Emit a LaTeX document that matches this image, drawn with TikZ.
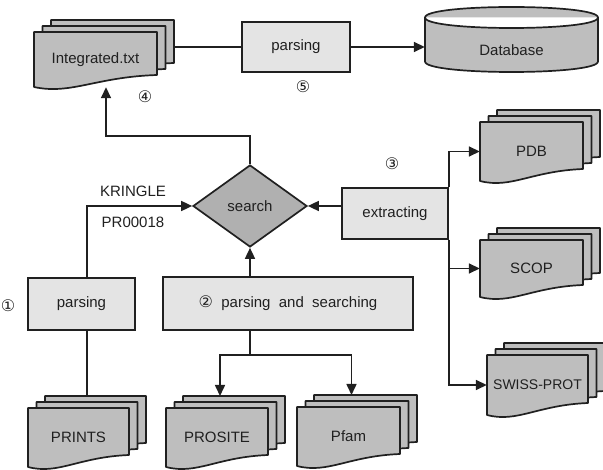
\documentclass[tikz,border=0pt]{standalone}
\usepackage{fontspec}
\setmainfont{Liberation Sans}
\newfontfamily\circfont{DejaVu Sans}
\usepackage{tikz}
\usetikzlibrary{arrows.meta,positioning,shapes.geometric,backgrounds,calc}
\definecolor{inkgray}{HTML}{202020}
\definecolor{boxgray}{HTML}{E4E4E4}
\definecolor{docgray}{HTML}{BEBEBE}
\definecolor{diagray}{HTML}{B0B0B0}

\newcommand{\circnum}[1]{{\circfont\fontsize{16}{17}\selectfont #1}}
% one page: top-left corner, width, height
\newcommand{\docpage}[4]{%
  \draw[docline] (#1,#2) -- ++(#3,0) -- ({#1+#3},{#2+#4-12})
    .. controls ({#1+0.5*#3},{#2+#4-10}) and ({#1+0.3*#3},{#2+#4+8}) .. (#1,{#2+#4}) -- cycle;}
% three pages, named node on the front one
\newcommand{\docstack}[6]{%
  \docpage{#2+17}{#3-12}{#4}{#5}
  \docpage{#2+8.5}{#3-6}{#4}{#5}
  \docpage{#2}{#3}{#4}{#5}
  \node[minimum width=#4pt,minimum height=#5pt,inner sep=0pt] (#1) at ({#2+#4/2},{#3+#5/2}) {#6};
  \coordinate (#1 top) at ({#2+#4/2+3},{#3-12});}

\begin{document}
\begin{tikzpicture}[x=1pt,y=-1pt,
  every node/.style={font=\fontsize{15}{17}\selectfont,text=inkgray},
  docline/.style={draw=inkgray,line width=1.7pt,fill=docgray,line join=round},
  procbox/.style={rectangle,draw=inkgray,line width=1.7pt,fill=boxgray,inner sep=0pt},
  flow/.style={draw=inkgray,line width=1.6pt,-{Triangle[length=11pt,width=10pt]}},
  link/.style={draw=inkgray,line width=1.6pt}]
  \useasboundingbox (0,0) rectangle (603,470);

  % process boxes
  \node[procbox,minimum width=108pt,minimum height=50pt] (ptop) at (296,47) {parsing};
  \node[procbox,minimum width=107pt,minimum height=52pt] (p1) at (81.5,304) {parsing};
  \node[procbox,minimum width=250pt,minimum height=53pt] (p2) at (288,303.5)
    {\circnum{②}\ \ parsing\ \ and\ \ searching};
  \node[procbox,minimum width=106pt,minimum height=51pt] (extract) at (395,213.5) {extracting};
  \node[diamond,draw=inkgray,line width=1.7pt,fill=diagray,inner sep=0pt,
    minimum width=114pt,minimum height=82pt] (search) at (250,206) {search};

  % database
  \draw[docline] (425,17.5) -- (425,61.5) .. controls (425,75.5) and (598,75.5) .. (598,61.5)
    -- (598,17.5) .. controls (598,31.5) and (425,31.5) .. (425,17.5)
    .. controls (425,3.5) and (598,3.5) .. (598,17.5);
  \node[minimum width=173pt,minimum height=44pt,inner sep=0pt] (db) at (511.5,50) {Database};

  % document stacks
  \docstack{integ}{34}{32}{123}{55}{Integrated.txt}
  \docstack{pdb}{480}{122}{103}{59}{PDB}
  \docstack{scop}{480}{240}{103}{57}{SCOP}
  \docstack{swiss}{487}{355}{101}{60}{\fontsize{14}{16}\selectfont SWISS-PROT}
  \docstack{prints}{28}{408}{101}{59}{PRINTS}
  \docstack{prosite}{166}{408}{102}{59}{PROSITE}
  \docstack{pfam}{297}{407}{103}{59}{Pfam}

  % labels
  \node (n1) at (8,306) {\circnum{①}};
  \node (n3) at (392,164) {\circnum{③}};
  \node (n4) at (145,97) {\circnum{④}};
  \node (n5) at (303,87) {\circnum{⑤}};
  \node (kringle) at (133,191) {KRINGLE};
  \node (pr) at (133,222) {PR00018};

  % connectors
  \coordinate (bend) at (106,136);
  \coordinate (p1 out) at ([xshift=5.5pt]p1.south);
  \coordinate (p1 in) at ([xshift=5.5pt]p1.north);
  \coordinate (split) at ([yshift=-24pt]p2.south -| search.south);
  \begin{scope}[on background layer]
    \draw[link] (ptop.west -| integ.east) -- (ptop.west);
    \draw[flow] (ptop.east) -- (ptop.east -| db.west);
    \draw[flow] (search.north) |- (bend) -- (bend |- integ.south);
    \draw[flow] (p1 in) |- (search.west);
    \draw[link] (p1 out) -- (p1 out |- prints top);
    \draw[flow] (p2.north -| search.south) -- (search.south);
    \draw[flow] (extract.west |- search.east) -- (search.east);
    \draw[flow] (extract.north east) |- (pdb.west);
    \draw[flow] (extract.south east) |- (scop.west);
    \draw[flow] (extract.south east) |- (swiss.west);
    \draw[link] (p2.south -| search.south) -- (split);
    \draw[flow] (split) -| (prosite top);
    \draw[flow] (split) -| (pfam top);
  \end{scope}
\end{tikzpicture}
\end{document}
